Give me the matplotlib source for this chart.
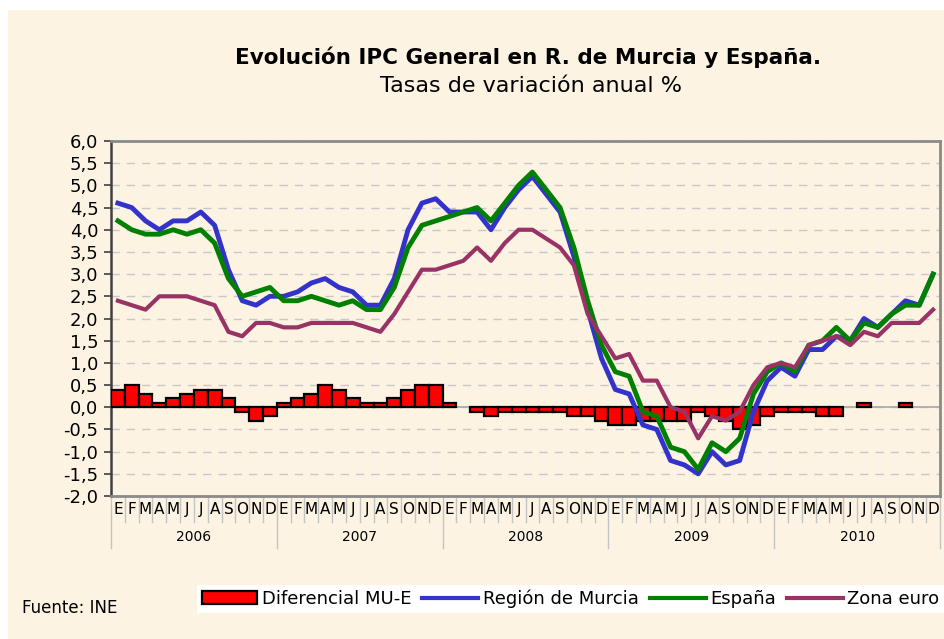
import matplotlib
matplotlib.use('Agg')
import matplotlib.pyplot as plt
import matplotlib.transforms as mtransforms
from matplotlib.patches import Rectangle
import numpy as np

# datos: tasas de variación anual %, enero 2006 - diciembre 2010
meses = ['E', 'F', 'M', 'A', 'M', 'J', 'J', 'A', 'S', 'O', 'N', 'D']
anios = ['2006', '2007', '2008', '2009', '2010']

murcia = [4.6, 4.5, 4.2, 4.0, 4.2, 4.2, 4.4, 4.1, 3.1, 2.4, 2.3, 2.5,
          2.5, 2.6, 2.8, 2.9, 2.7, 2.6, 2.3, 2.3, 2.9, 4.0, 4.6, 4.7,
          4.4, 4.4, 4.4, 4.0, 4.5, 4.9, 5.2, 4.8, 4.4, 3.4, 2.2, 1.1,
          0.4, 0.3, -0.4, -0.5, -1.2, -1.3, -1.5, -1.0, -1.3, -1.2, -0.1, 0.6,
          0.9, 0.7, 1.3, 1.3, 1.6, 1.5, 2.0, 1.8, 2.1, 2.4, 2.3, 3.0]

espana = [4.2, 4.0, 3.9, 3.9, 4.0, 3.9, 4.0, 3.7, 2.9, 2.5, 2.6, 2.7,
          2.4, 2.4, 2.5, 2.4, 2.3, 2.4, 2.2, 2.2, 2.7, 3.6, 4.1, 4.2,
          4.3, 4.4, 4.5, 4.2, 4.6, 5.0, 5.3, 4.9, 4.5, 3.6, 2.4, 1.4,
          0.8, 0.7, -0.1, -0.2, -0.9, -1.0, -1.4, -0.8, -1.0, -0.7, 0.3, 0.8,
          1.0, 0.8, 1.4, 1.5, 1.8, 1.5, 1.9, 1.8, 2.1, 2.3, 2.3, 3.0]

zona_euro = [2.4, 2.3, 2.2, 2.5, 2.5, 2.5, 2.4, 2.3, 1.7, 1.6, 1.9, 1.9,
             1.8, 1.8, 1.9, 1.9, 1.9, 1.9, 1.8, 1.7, 2.1, 2.6, 3.1, 3.1,
             3.2, 3.3, 3.6, 3.3, 3.7, 4.0, 4.0, 3.8, 3.6, 3.2, 2.1, 1.6,
             1.1, 1.2, 0.6, 0.6, 0.0, -0.1, -0.7, -0.2, -0.3, -0.1, 0.5, 0.9,
             1.0, 0.9, 1.4, 1.5, 1.6, 1.4, 1.7, 1.6, 1.9, 1.9, 1.9, 2.2]

diferencial = [0.4, 0.5, 0.3, 0.1, 0.2, 0.3, 0.4, 0.4, 0.2, -0.1, -0.3, -0.2,
               0.1, 0.2, 0.3, 0.5, 0.4, 0.2, 0.1, 0.1, 0.2, 0.4, 0.5, 0.5,
               0.1, 0.0, -0.1, -0.2, -0.1, -0.1, -0.1, -0.1, -0.1, -0.2, -0.2, -0.3,
               -0.4, -0.4, -0.3, -0.3, -0.3, -0.3, -0.1, -0.2, -0.3, -0.5, -0.4, -0.2,
               -0.1, -0.1, -0.1, -0.2, -0.2, 0.0, 0.1, 0.0, 0.0, 0.1, 0.0, 0.0]

crema = '#FDF3E3'
W, H = 944, 639

fig = plt.figure(figsize=(W / 100, H / 100), dpi=100, facecolor='white')
fig.patches.append(Rectangle((8 / W, 0), 1, 1 - 10 / H, transform=fig.transFigure,
                             facecolor=crema, edgecolor='none', zorder=-10))

ax_bottom, ax_top = 496, 141
ax_h = ax_bottom - ax_top
ax = fig.add_axes([111 / W, 1 - ax_bottom / H, (940 - 111) / W, ax_h / H])
ax.set_facecolor(crema)

x = np.arange(len(murcia))
dif = np.array(diferencial)
hay = dif != 0
barras = ax.bar(x[hay], dif[hay], width=1.0, color='#FF0000', edgecolor='black',
                linewidth=1.6, zorder=3, label='Diferencial MU-E')
l1, = ax.plot(x, murcia, color='#3333CC', lw=3.5, zorder=4, label='Región de Murcia')
l2, = ax.plot(x, espana, color='#008000', lw=3.5, zorder=5, label='España')
l3, = ax.plot(x, zona_euro, color='#993366', lw=3.0, zorder=6, label='Zona euro')
ax.axhline(0, color='#a8a8a8', lw=1.2, zorder=2)

ax.set_ylim(-2, 6)
yt = np.arange(-2, 6.01, 0.5)
ax.set_yticks(yt)
ax.set_yticklabels([f'{v:.1f}'.replace('.', ',') for v in yt], fontsize=13)
ax.yaxis.grid(True, linestyle=(0, (6, 5)), color='#c8c8c8', lw=1)
ax.set_axisbelow(True)
ax.tick_params(axis='y', length=5, width=1.2, color='#404040', pad=4)

ax.set_xlim(-0.5, len(murcia) - 0.5)
ax.set_xticks(x)
ax.set_xticklabels(meses * len(anios), fontsize=11)
ax.tick_params(axis='x', length=0, pad=4)

trans = mtransforms.blended_transform_factory(ax.transData, ax.transAxes)
for i in range(len(murcia) + 1):
    largo = 52 if i % 12 == 0 else 26
    ax.plot([i - 0.5, i - 0.5], [0, -largo / ax_h], transform=trans,
            clip_on=False, color='#c4c4c4', lw=1)
for k, anio in enumerate(anios):
    ax.text(12 * k + 5.5, -41 / ax_h, anio, transform=trans, ha='center',
            va='center', fontsize=10)

ax.spines['left'].set_color('#404040')
ax.spines['left'].set_linewidth(1.8)
for s in ['top', 'right', 'bottom']:
    ax.spines[s].set_color('#8a8a8a')
    ax.spines[s].set_linewidth(2)

fig.text(528 / W, 1 - 57 / H, 'Evolución IPC General en R. de Murcia y España.',
         ha='center', va='center', fontsize=15.5, fontweight='bold')
fig.text(531 / W, 1 - 86 / H, 'Tasas de variación anual %',
         ha='center', va='center', fontsize=16)
fig.text(22 / W, 1 - 608 / H, 'Fuente: INE', va='center', fontsize=12)

leg = fig.legend(handles=[barras, l1, l2, l3],
                 loc='upper left', bbox_to_anchor=(197 / W, 1 - 585 / H), ncol=4,
                 frameon=True, fancybox=False, facecolor='white', edgecolor='none',
                 framealpha=1, fontsize=13, handlelength=3.1, handleheight=0.75,
                 handletextpad=0.25, columnspacing=0.6, borderpad=0.25,
                 borderaxespad=0)
for h in leg.legend_handles[1:]:
    h.set_linewidth(3)

fig.savefig('out.png', dpi=100, facecolor=fig.get_facecolor())
